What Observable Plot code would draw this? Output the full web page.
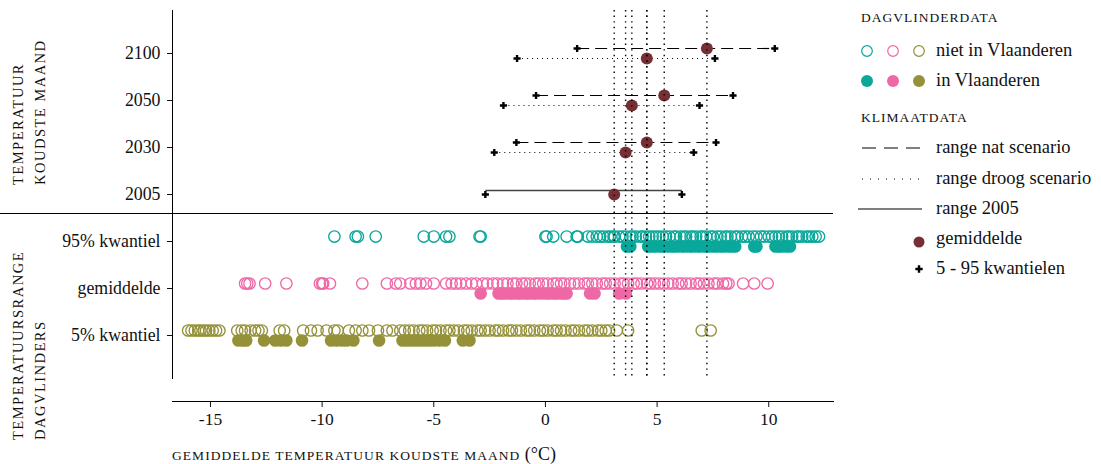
<!DOCTYPE html>
<html><head><meta charset="utf-8">
<script src="https://cdn.jsdelivr.net/npm/d3@7"></script>
<script src="https://cdn.jsdelivr.net/npm/@observablehq/plot@0.6"></script>
<style>
body{margin:0;background:#fff;}
#wrap{position:relative;width:1101px;height:464px;font-family:"Liberation Serif",serif;}
#overlay{position:absolute;left:0;top:0;pointer-events:none;}
</style></head><body><div id="wrap"></div>
<script>
// ---- categories ----
const rowNames = ["2100", "2050", "2030", "2005", "95% kwantiel", "gemiddelde", "5% kwantiel"];
const scenarioYears = ["2100", "2050", "2030"];

// ---- climate data (°C, coldest month) ----
const natLow   = [1.42, -0.42, -1.30];
const natHigh  = [10.27, 8.40, 7.64];
const natMean  = [7.23, 5.32, 4.54];
const droogLow  = [-1.27, -1.88, -2.29];
const droogHigh = [7.59, 6.90, 6.64];
const droogMean = [4.54, 3.87, 3.59];
const base2005 = {low: -2.69, high: 6.11, mean: 3.08};

// ---- butterfly data (°C) ----
const p95Niet = [-9.45, -8.5, -8.4, -7.6, -5.45, -5.0, -4.45, -4.3, -2.95, -2.9, 0.0, 0.05, 0.35, 0.95, 1.4, 1.45, 1.9, 2.1, 2.3, 2.45, 2.6, 2.8, 2.9, 3.05, 3.1, 3.3, 3.45, 3.6, 3.8, 3.9, 4.05, 4.25, 4.35, 4.5, 4.65, 4.8, 4.95, 5.1, 5.25, 5.4, 5.55, 5.75, 5.85, 6.05, 6.2, 6.3, 6.5, 6.6, 6.75, 6.95, 7.05, 7.2, 7.4, 7.5, 7.7, 7.85, 8.05, 8.15, 8.3, 8.5, 8.6, 8.8, 8.95, 9.1, 9.3, 9.45, 9.65, 9.8, 10.0, 10.15, 10.3, 10.45, 10.6, 10.8, 10.9, 11.05, 11.25, 11.35, 11.5, 11.7, 11.8, 11.95, 12.1, 12.25];
const p95In = [3.65, 3.8, 4.6, 4.75, 4.9, 5.1, 5.25, 5.4, 5.6, 5.75, 5.9, 6.1, 6.25, 6.45, 6.6, 6.8, 6.95, 7.15, 7.3, 7.5, 7.65, 7.85, 8.0, 8.2, 8.35, 8.5, 9.35, 9.45, 10.3, 10.45, 10.6, 10.8, 10.95];
const gemNiet = [-13.45, -13.35, -13.25, -12.55, -11.6, -10.1, -10.0, -9.95, -9.65, -8.2, -7.1, -6.7, -6.5, -6.05, -5.8, -5.6, -5.35, -5.0, -4.45, -4.2, -4.0, -3.8, -3.55, -3.3, -3.1, -2.8, -2.6, -2.35, -2.15, -1.9, -1.7, -1.45, -1.3, -1.05, -0.9, -0.7, -0.45, -0.3, -0.1, 0.1, 0.35, 0.5, 0.7, 0.85, 1.1, 1.3, 1.5, 1.75, 1.9, 2.1, 2.3, 2.55, 2.7, 2.9, 3.1, 3.35, 3.5, 3.7, 3.95, 4.1, 4.3, 4.55, 4.7, 4.9, 5.1, 5.3, 5.5, 5.7, 5.95, 6.1, 6.3, 6.5, 6.75, 6.9, 7.1, 7.3, 7.55, 7.7, 7.95, 8.1, 8.2, 8.85, 9.35, 9.95];
const gemIn = [-2.9, -2.1, -1.95, -1.8, -1.6, -1.45, -1.25, -1.1, -0.9, -0.75, -0.55, -0.4, -0.2, 0.0, 0.15, 0.35, 0.5, 0.7, 0.85, 0.95, 2.0, 2.2, 3.3, 3.6];
const p5Niet = [-16.0, -15.85, -15.7, -15.55, -15.45, -15.3, -15.2, -15.05, -14.9, -14.75, -14.6, -13.8, -13.6, -13.45, -13.2, -13.0, -12.85, -12.7, -11.9, -11.7, -10.85, -10.5, -10.2, -9.8, -9.45, -9.3, -8.8, -8.5, -8.2, -7.9, -7.5, -7.1, -6.85, -6.5, -6.3, -6.1, -5.9, -5.65, -5.5, -5.3, -5.05, -4.9, -4.7, -4.45, -4.3, -4.1, -3.9, -3.65, -3.5, -3.3, -3.05, -2.9, -2.7, -2.5, -2.25, -2.1, -1.9, -1.65, -1.5, -1.3, -1.1, -0.85, -0.7, -0.5, -0.25, -0.1, 0.1, 0.35, 0.5, 0.7, 0.9, 1.15, 1.3, 1.5, 1.75, 1.9, 2.1, 2.35, 2.5, 2.7, 2.85, 3.2, 3.7, 7.0, 7.4];
const p5In = [-13.75, -13.55, -13.4, -12.6, -12.1, -11.85, -11.6, -10.9, -9.6, -9.35, -9.1, -8.9, -8.6, -7.45, -6.4, -6.2, -6.0, -5.8, -5.6, -5.4, -5.2, -5.0, -4.75, -4.5, -3.7, -3.4];

// ---- tick labels / texts ----
const xTicks = [-15, -10, -5, 0, 5, 10];
const xTitle = "GEMIDDELDE TEMPERATUUR KOUDSTE MAAND";
const topTitle = ["TEMPERATUUR", "KOUDSTE MAAND"];
const bottomTitle = ["TEMPERATUURSRANGE", "DAGVLINDERS"];

// ---- colours ----
const teal = "#0aa89a", pink = "#ef68a6", olive = "#949139", maroon = "#772f36";

// tables built from arrays
const nat = scenarioYears.map((y, i) => ({year: y, low: natLow[i], high: natHigh[i], mean: natMean[i]}));
const droog = scenarioYears.map((y, i) => ({year: y, low: droogLow[i], high: droogHigh[i], mean: droogMean[i]}));
const base = [{year: "2005", ...base2005}];
const allMeans = [...natMean, ...droogMean, base2005.mean];

const butterflies = [
  {row: "95% kwantiel", color: teal, niet: p95Niet, inVl: p95In},
  {row: "gemiddelde", color: pink, niet: gemNiet, inVl: gemIn},
  {row: "5% kwantiel", color: olive, niet: p5Niet, inVl: p5In}
];

const crosses = (data, dy) => [
  Plot.dot(data, {x: "low", y: "year", dy, symbol: "cross", r: 3, fill: "#000", stroke: "none"}),
  Plot.dot(data, {x: "high", y: "year", dy, symbol: "cross", r: 3, fill: "#000", stroke: "none"})
];

const marks = [
  Plot.ruleY(["2005"], {dy: 19, insetLeft: -172, stroke: "#000", strokeWidth: 1}),
  Plot.frame({anchor: "left", stroke: "#000", strokeWidth: 1}),
  Plot.frame({anchor: "bottom", dy: 23, stroke: "#000", strokeWidth: 1}),
  Plot.axisY({tickSize: 5, tickPadding: 7, fontSize: 17.8, label: null}),
  Plot.axisX({ticks: xTicks, dy: 23, tickSize: 6, tickPadding: 5, fontSize: 17.5, label: null, tickFormat: d => String(d)}),
  // climate ranges
  Plot.link(nat, {x1: "low", x2: "high", y1: "year", y2: "year", dy: -5, stroke: "#000", strokeWidth: 1.2, strokeDasharray: "12,6"}),
  Plot.link(droog, {x1: "low", x2: "high", y1: "year", y2: "year", dy: 5, stroke: "#000", strokeWidth: 1.2, strokeDasharray: "1,4"}),
  Plot.link(base, {x1: "low", x2: "high", y1: "year", y2: "year", dy: -4, stroke: "#444", strokeWidth: 1.4}),
  ...crosses(nat, -5), ...crosses(droog, 5), ...crosses(base, 0),
  Plot.dot(nat, {x: "mean", y: "year", dy: -5, r: 6, fill: maroon}),
  Plot.dot(droog, {x: "mean", y: "year", dy: 5, r: 6, fill: maroon}),
  Plot.dot(base, {x: "mean", y: "year", r: 6, fill: maroon}),
];
for (const b of butterflies) {
  marks.push(Plot.dot(b.niet, {x: d => d, y: () => b.row, dy: -5, r: 5.7, stroke: b.color, strokeWidth: 1.35, fill: "none"}));
}
for (const b of butterflies) {
  marks.push(Plot.dot(b.inVl, {x: d => d, y: () => b.row, dy: 5, r: 6.3, fill: b.color, stroke: "none"}));
}
marks.push(Plot.ruleX(allMeans, {x: d => d, stroke: "#000", strokeWidth: 1.4, strokeDasharray: "1.4,4.2"}));

const chart = Plot.plot({
  width: 1101, height: 464,
  marginLeft: 172, marginRight: 268, marginTop: 10, marginBottom: 86,
  style: {fontFamily: "Liberation Serif, serif", fontSize: "17px", color: "#111", background: "#fff"},
  x: {domain: [-16.7, 12.9]},
  y: {type: "point", domain: rowNames, padding: 0.87},
  marks
});
const wrap = document.getElementById("wrap");
wrap.appendChild(chart);

// ---- overlay: titles and legend ----
const svg = d3.select(wrap).append("svg").attr("id", "overlay").attr("width", 1101).attr("height", 464)
  .style("font-family", "Liberation Serif, serif").style("fill", "#111");

function vtitle(lines, yStart) {
  lines.forEach((t, i) => {
    svg.append("text").attr("transform", `translate(${23 + i * 22},${yStart}) rotate(-90)`)
      .attr("font-size", 14.5).attr("letter-spacing", 1.5).text(t);
  });
}
vtitle(topTitle, 185);
vtitle(bottomTitle, 440);

const xt = svg.append("text").attr("x", 172).attr("y", 460).attr("font-size", 13.5).attr("letter-spacing", 1.05);
xt.append("tspan").text(xTitle + " ");
xt.append("tspan").attr("font-size", 18).attr("letter-spacing", 0).text("(°C)");

// legend
const L = svg.append("g");
L.append("text").attr("x", 861).attr("y", 22).attr("font-size", 13.5).attr("letter-spacing", 1).text("DAGVLINDERDATA");
[teal, pink, olive].forEach((c, i) => {
  L.append("circle").attr("cx", 867 + i * 26).attr("cy", 51).attr("r", 5.3).attr("fill", "none").attr("stroke", c).attr("stroke-width", 1.2);
  L.append("circle").attr("cx", 867 + i * 26).attr("cy", 81).attr("r", 6).attr("fill", c);
});
const item = (y, t) => L.append("text").attr("x", 936).attr("y", y).attr("dy", "0.35em").attr("font-size", 18.5).text(t);
item(50, "niet in Vlaanderen");
item(80, "in Vlaanderen");
L.append("text").attr("x", 861).attr("y", 122).attr("font-size", 13.5).attr("letter-spacing", 1).text("KLIMAATDATA");
L.append("line").attr("x1", 862).attr("x2", 922).attr("y1", 148).attr("y2", 148).attr("stroke", "#000").attr("stroke-width", 1.1).attr("stroke-dasharray", "14,8");
item(147, "range nat scenario");
L.append("line").attr("x1", 862).attr("x2", 922).attr("y1", 179).attr("y2", 179).attr("stroke", "#000").attr("stroke-width", 1).attr("stroke-dasharray", "1,7");
item(178, "range droog scenario");
L.append("line").attr("x1", 858).attr("x2", 922).attr("y1", 209).attr("y2", 209).attr("stroke", "#000").attr("stroke-width", 1.2);
item(208, "range 2005");
L.append("circle").attr("cx", 919).attr("cy", 242).attr("r", 5.5).attr("fill", maroon);
item(238, "gemiddelde");
L.append("path").attr("d", d3.symbol(d3.symbolCross, 30)()).attr("transform", "translate(919,269)").attr("fill", "#000");
item(268, "5 - 95 kwantielen");
</script></body></html>
